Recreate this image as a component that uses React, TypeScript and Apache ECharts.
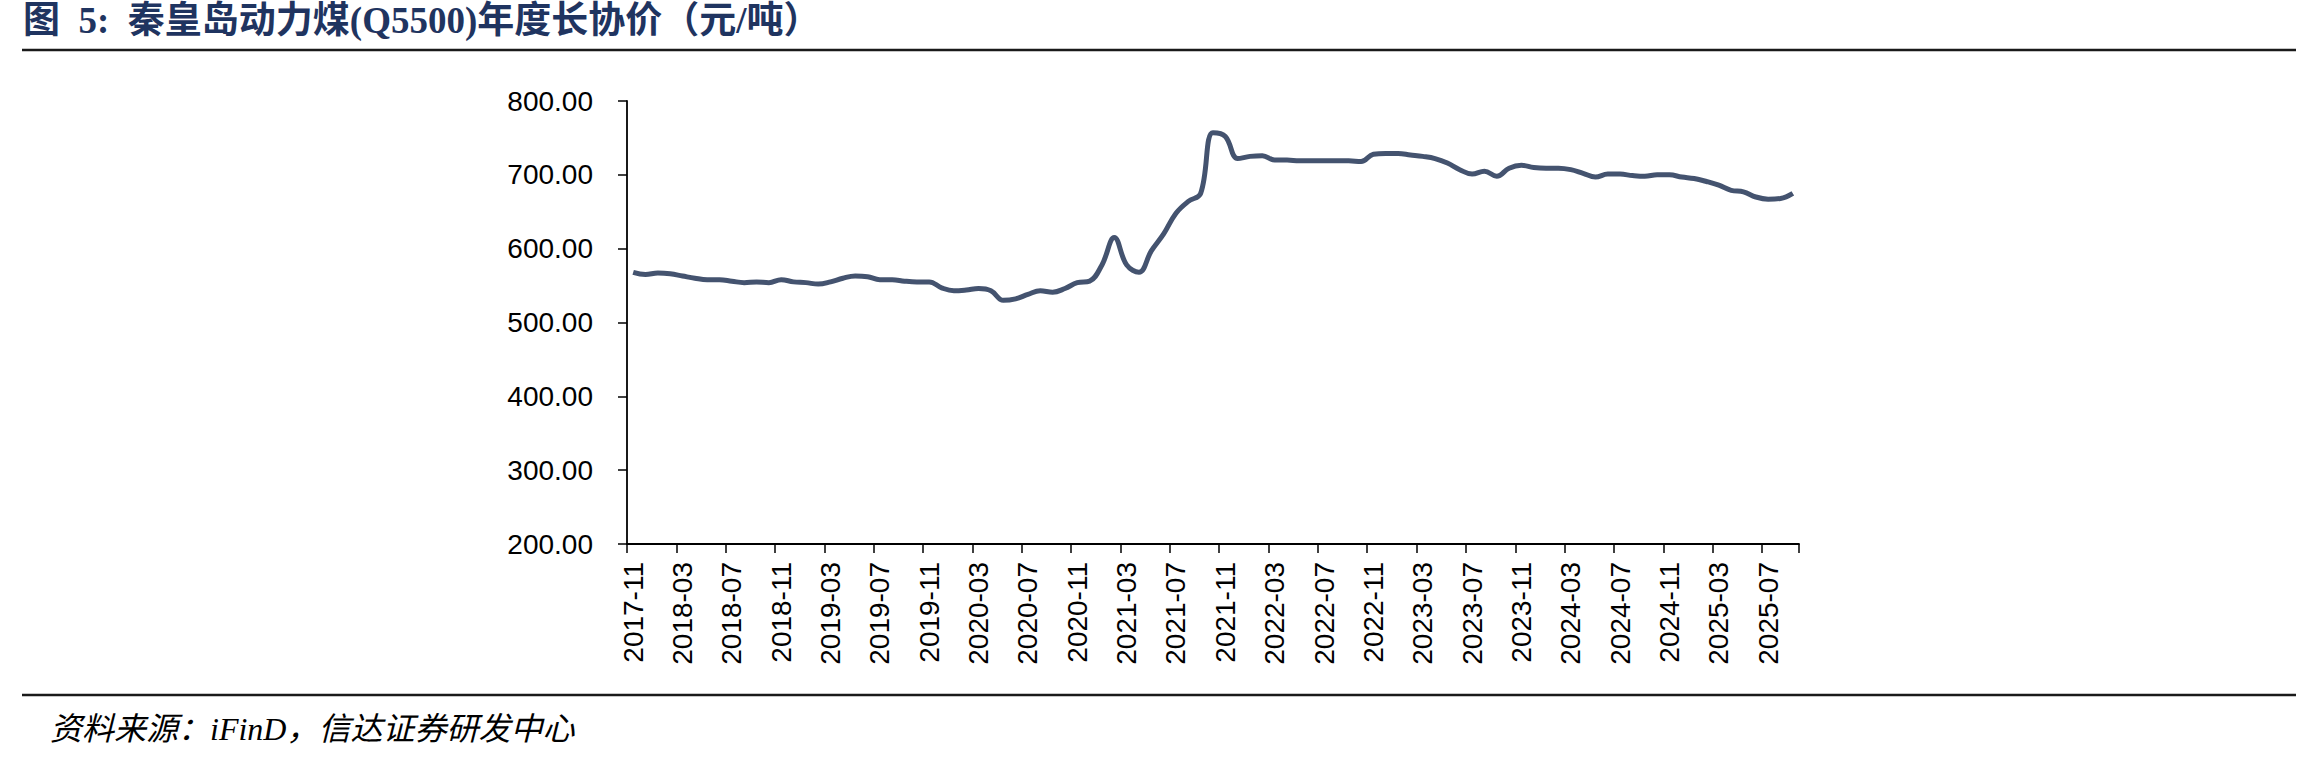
import React, { useEffect, useRef } from 'react';
import * as echarts from 'echarts';

const months2017 = ['2017-11', '2017-12'];
const months2018 = ['2018-01', '2018-02', '2018-03', '2018-04', '2018-05', '2018-06', '2018-07', '2018-08', '2018-09', '2018-10', '2018-11', '2018-12'];
const months2019 = ['2019-01', '2019-02', '2019-03', '2019-04', '2019-05', '2019-06', '2019-07', '2019-08', '2019-09', '2019-10', '2019-11', '2019-12'];
const months2020 = ['2020-01', '2020-02', '2020-03', '2020-04', '2020-05', '2020-06', '2020-07', '2020-08', '2020-09', '2020-10', '2020-11', '2020-12'];
const months2021 = ['2021-01', '2021-02', '2021-03', '2021-04', '2021-05', '2021-06', '2021-07', '2021-08', '2021-09', '2021-10', '2021-11', '2021-12'];
const months2022 = ['2022-01', '2022-02', '2022-03', '2022-04', '2022-05', '2022-06', '2022-07', '2022-08', '2022-09', '2022-10', '2022-11', '2022-12'];
const months2023 = ['2023-01', '2023-02', '2023-03', '2023-04', '2023-05', '2023-06', '2023-07', '2023-08', '2023-09', '2023-10', '2023-11', '2023-12'];
const months2024 = ['2024-01', '2024-02', '2024-03', '2024-04', '2024-05', '2024-06', '2024-07', '2024-08', '2024-09', '2024-10', '2024-11', '2024-12'];
const months2025 = ['2025-01', '2025-02', '2025-03', '2025-04', '2025-05', '2025-06', '2025-07', '2025-08', '2025-09'];

const values2017 = [568, 565];
const values2018 = [567, 566, 563, 560, 558, 558, 556, 554, 555, 554, 558, 555];
const values2019 = [554, 552, 555, 560, 563, 562, 558, 558, 556, 555, 555, 547];
const values2020 = [543, 544, 546, 543, 530, 532, 538, 543, 541, 546, 554, 556];
const values2021 = [578, 615, 578, 568, 597, 620, 648, 664, 675, 757, 752, 722];
const values2022 = [725, 726, 720, 720, 719, 719, 719, 719, 719, 718, 728, 729];
const values2023 = [729, 727, 725, 722, 716, 707, 701, 705, 698, 709, 713, 710];
const values2024 = [709, 709, 707, 702, 697, 701, 701, 699, 698, 700, 700, 697];
const values2025 = [695, 691, 686, 679, 677, 670, 667, 668, 675];

const categories = [
  ...months2017, ...months2018, ...months2019, ...months2020, ...months2021,
  ...months2022, ...months2023, ...months2024, ...months2025,
];
const values = [
  ...values2017, ...values2018, ...values2019, ...values2020, ...values2021,
  ...values2022, ...values2023, ...values2024, ...values2025,
];

const yMin = 200;
const yMax = 800;
const yStep = 100;

const titleText = '图  5:  秦皇岛动力煤(Q5500)年度长协价（元/吨）';
const sourceText = '资料来源：iFinD，信达证券研发中心';

export default function App() {
  const ref = useRef<HTMLDivElement>(null);
  useEffect(() => {
    const chart = echarts.init(ref.current as HTMLDivElement, null, { renderer: 'svg' });
    chart.setOption({
      animation: false,
      backgroundColor: '#ffffff',
      grid: { left: 627, top: 101, right: 504, bottom: 218, containLabel: false },
      graphic: [
        {
          type: 'text',
          left: 23,
          top: 2,
          style: {
            text: titleText,
            font: 'bold 37px "Liberation Serif", "Noto Sans CJK SC", serif',
            fill: '#1F3460',
          },
        },
        {
          type: 'line',
          shape: { x1: 22, y1: 50, x2: 2296, y2: 50 },
          style: { stroke: '#1a1a1a', lineWidth: 2.5 },
        },
        {
          type: 'line',
          shape: { x1: 22, y1: 695, x2: 2296, y2: 695 },
          style: { stroke: '#1a1a1a', lineWidth: 2.5 },
        },
        {
          type: 'text',
          left: 50,
          top: 713,
          style: {
            text: sourceText,
            font: 'italic 32px "Liberation Serif", "Noto Sans CJK SC", serif',
            fill: '#000000',
          },
        },
      ],
      xAxis: {
        type: 'category',
        data: categories,
        boundaryGap: true,
        axisLine: { show: true, lineStyle: { color: '#000', width: 1.8 } },
        axisTick: { show: true, interval: 3, length: 9, lineStyle: { color: '#000', width: 1.5 } },
        axisLabel: {
          interval: 3,
          rotate: 90,
          margin: 18,
          fontSize: 28,
          fontFamily: '"Liberation Sans", Arial, sans-serif',
          color: '#000',
        },
        splitLine: { show: false },
      },
      yAxis: {
        type: 'value',
        min: yMin,
        max: yMax,
        interval: yStep,
        axisLine: { show: true, lineStyle: { color: '#000', width: 1.8 } },
        axisTick: { show: true, length: 9, lineStyle: { color: '#000', width: 1.5 } },
        axisLabel: {
          margin: 34,
          fontSize: 28,
          fontFamily: '"Liberation Sans", Arial, sans-serif',
          color: '#000',
          formatter: (v: number) => v.toFixed(2),
        },
        splitLine: { show: false },
      },
      series: [
        {
          type: 'line',
          data: values,
          smooth: 0.4,
          symbol: 'none',
          lineStyle: { color: '#44536F', width: 5 },
        },
      ],
    });
    return () => chart.dispose();
  }, []);
  return (
    <div
      ref={ref}
      style={{ position: 'fixed', left: 0, top: 0, width: 2303, height: 762 }}
    />
  );
}
